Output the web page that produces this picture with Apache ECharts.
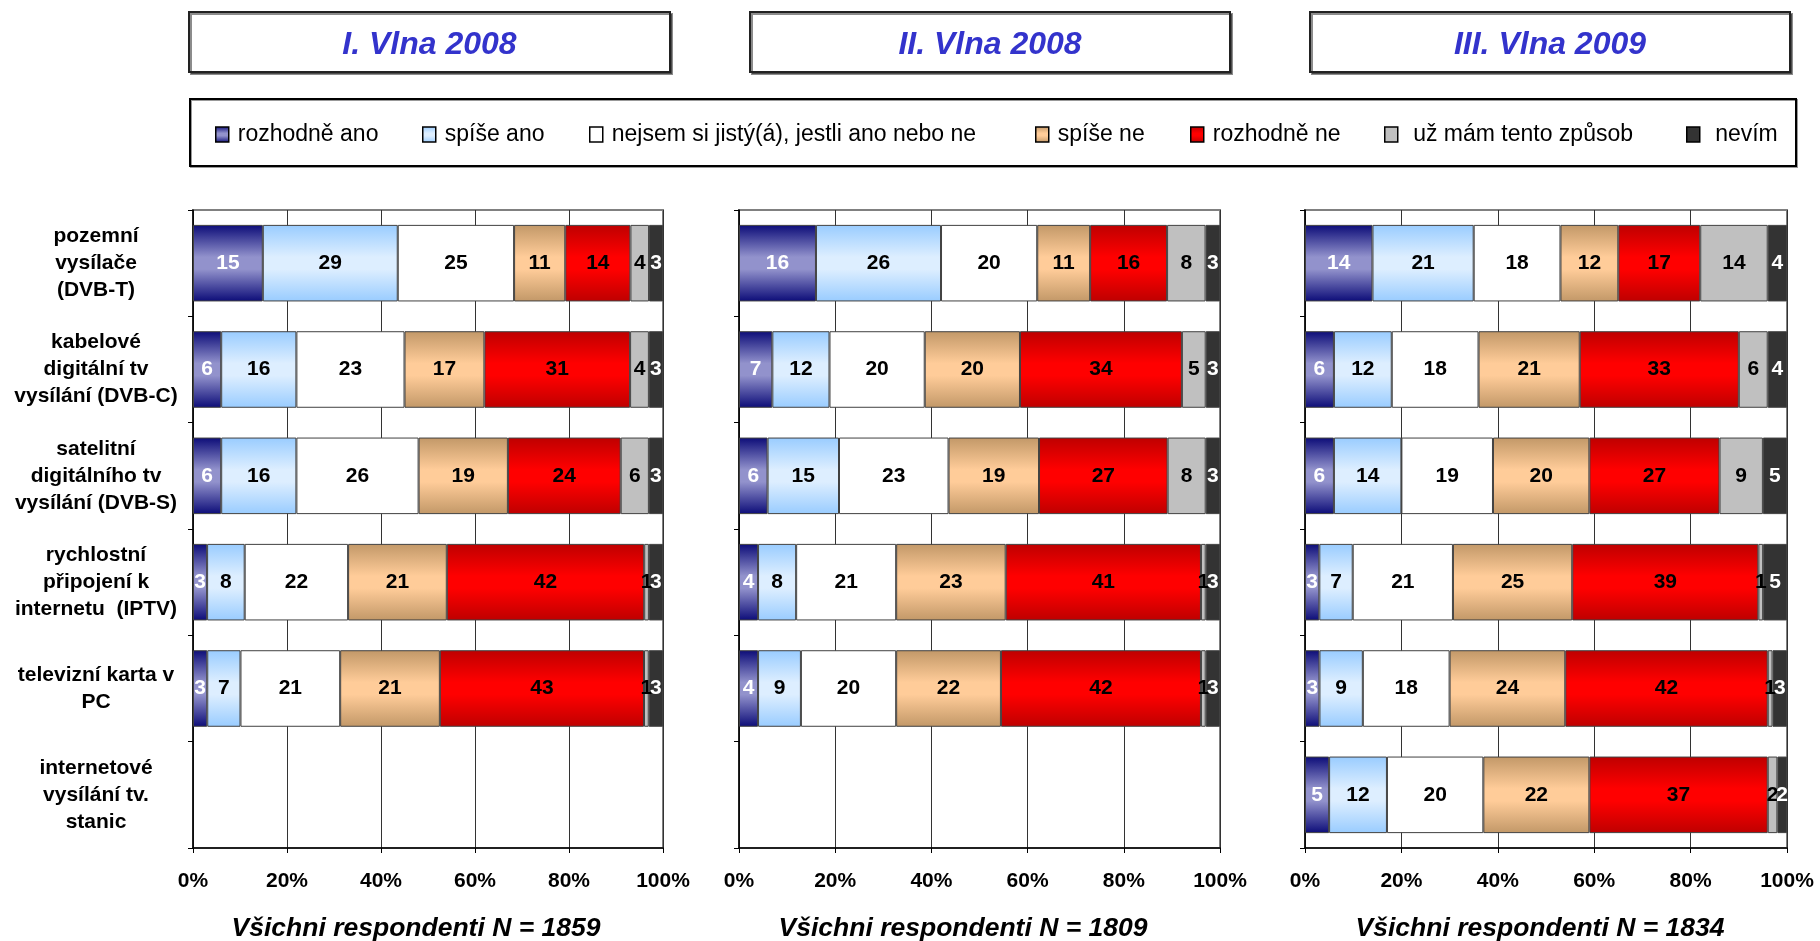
<!DOCTYPE html>
<html>
<head>
<meta charset="utf-8">
<script src="https://cdn.jsdelivr.net/npm/echarts@6/dist/echarts.min.js"></script>
<style>
html,body{margin:0;padding:0;background:#fff;}
#chart{width:1820px;height:941px;}
</style>
</head>
<body>
<div id="chart"></div>
<script>
// ---- data ----
const categories = [
  'pozemní\nvysílače\n(DVB-T)',
  'kabelové\ndigitální tv\nvysílání (DVB-C)',
  'satelitní\ndigitálního tv\nvysílání (DVB-S)',
  'rychlostní\npřipojení k\ninternetu  (IPTV)',
  'televizní karta v\nPC',
  'internetové\nvysílání tv.\nstanic'
];
const answers = ['rozhodně ano', 'spíše ano', 'nejsem si jistý(á), jestli ano nebo ne', 'spíše ne', 'rozhodně ne', 'už mám tento způsob', 'nevím'];
// rows follow categories; values follow answers
const wave1 = [[15,29,25,11,14,4,3],[6,16,23,17,31,4,3],[6,16,26,19,24,6,3],[3,8,22,21,42,1,3],[3,7,21,21,43,1,3],null];
const wave2 = [[16,26,20,11,16,8,3],[7,12,20,20,34,5,3],[6,15,23,19,27,8,3],[4,8,21,23,41,1,3],[4,9,20,22,42,1,3],null];
const wave3 = [[14,21,18,12,17,14,4],[6,12,18,21,33,6,4],[6,14,19,20,27,9,5],[3,7,21,25,39,1,5],[3,9,18,24,42,1,3],[5,12,20,22,37,2,2]];
const waveTitles = ['I. Vlna 2008', 'II. Vlna 2008', 'III. Vlna 2009'];
const sampleNotes = ['Všichni respondenti N = 1859', 'Všichni respondenti N = 1809', 'Všichni respondenti N = 1834'];

// ---- styling ----
const FONT = '"Liberation Sans", Arial, sans-serif';
function grad(a, b) {
  return new echarts.graphic.LinearGradient(0, 0, 0, 1, [
    {offset: 0, color: a}, {offset: 0.42, color: b}, {offset: 0.58, color: b}, {offset: 1, color: a}
  ]);
}
const fills = [
  grad('#0C0C78', '#9292CC'),
  grad('#99CCFF', '#DDEEFF'),
  '#FFFFFF',
  grad('#C29868', '#FFCC99'),
  grad('#BE0000', '#FF0000'),
  '#C0C0C0',
  '#333333'
];
const labelColors = ['#FFFFFF', '#000', '#000', '#000', '#000', '#000', '#FFFFFF'];

const waves = [wave1, wave2, wave3];
const grids = [
  {left: 193, top: 210, width: 470, height: 638},
  {left: 739, top: 210, width: 481, height: 638},
  {left: 1305, top: 210, width: 482, height: 638}
];
const titleBoxes = [[189, 670], [750, 1230], [1310, 1790]];
const noteCenters = [416, 963, 1540];
const legendLeft = [215, 422, 589, 1035, 1190, 1384, 1686];

const xAxes = [], yAxes = [], series = [];
grids.forEach((g, p) => {
  g.show = true; g.borderColor = '#808080'; g.borderWidth = 2;
  xAxes.push({
    type: 'value', gridIndex: p, min: 0, max: 100, interval: 20,
    axisLine: {show: true, lineStyle: {color: '#000', width: 1.5}},
    axisTick: {show: true, length: 5, lineStyle: {color: '#000'}},
    splitLine: {show: true, lineStyle: {color: '#333', width: 1}},
    axisLabel: {formatter: '{value}%', fontSize: 21, fontWeight: 'bold', color: '#000', fontFamily: FONT, margin: 23}
  });
  yAxes.push({
    type: 'category', gridIndex: p, data: categories, inverse: true,
    axisLine: {show: true, lineStyle: {color: '#000', width: 1.5}},
    axisTick: {show: true, length: 5, lineStyle: {color: '#000'}},
    axisLabel: {show: p === 0, fontSize: 21, fontWeight: 'bold', color: '#000', fontFamily: FONT,
      align: 'center', margin: 97, lineHeight: 27}
  });
  const rows = waves[p];
  answers.forEach((ans, a) => {
    series.push({
      name: ans, type: 'bar', xAxisIndex: p, yAxisIndex: p, stack: 'w' + p,
      barCategoryGap: '28%',
      itemStyle: {color: fills[a], borderColor: '#404040', borderWidth: 1},
      label: {show: true, position: 'inside', fontSize: 21, fontWeight: 'bold', fontFamily: FONT,
        color: labelColors[a], formatter: prm => prm.data && prm.data.raw != null ? prm.data.raw : ''},
      emphasis: {disabled: true},
      data: rows.map(r => {
        if (!r) return '-';
        const total = r.reduce((s, v) => s + v, 0);
        return {value: r[a] / total * 100, raw: r[a]};
      })
    });
  });
});

const legends = answers.map((ans, i) => ({
  data: [ans], left: legendLeft[i], top: 122, padding: 0, itemWidth: 13, itemHeight: 15,
  icon: 'rect', selectedMode: false,
  itemStyle: {borderColor: '#000', borderWidth: 1.5},
  formatter: i >= 5 ? ' {name}' : '{name}',
  textStyle: {fontSize: 23, color: '#000', fontFamily: FONT, lineHeight: 25, padding: [0, 0, 0, 4]}
}));

const graphics = [];
titleBoxes.forEach((b, i) => {
  graphics.push({type: 'rect', shape: {x: b[0], y: 12, width: b[1] - b[0], height: 60},
    style: {fill: '#fff', stroke: '#222', lineWidth: 2, shadowColor: 'rgba(0,0,0,0.45)', shadowOffsetX: 2, shadowOffsetY: 2, shadowBlur: 0}, z: 0});
  graphics.push({type: 'text', x: (b[0] + b[1]) / 2, y: 45,
    style: {text: waveTitles[i], fontSize: 32, fontWeight: 'bold', fontStyle: 'italic', fontFamily: FONT,
      fill: '#3333CC', align: 'center', verticalAlign: 'middle'}, z: 1});
  graphics.push({type: 'text', x: noteCenters[i], y: 929,
    style: {text: sampleNotes[i], fontSize: 26.5, fontWeight: 'bold', fontStyle: 'italic', fontFamily: FONT,
      fill: '#000', align: 'center', verticalAlign: 'middle'}, z: 1});
});
graphics.push({type: 'rect', shape: {x: 190, y: 99, width: 1606, height: 67},
  style: {fill: 'none', stroke: '#000', lineWidth: 2, shadowColor: 'rgba(0,0,0,0.4)', shadowOffsetX: 1, shadowOffsetY: 1, shadowBlur: 0}, z: 0});

const chart = echarts.init(document.getElementById('chart'), null, {renderer: 'canvas'});
chart.setOption({
  backgroundColor: '#fff',
  animation: false,
  grid: grids,
  xAxis: xAxes,
  yAxis: yAxes,
  legend: legends,
  graphic: graphics,
  series: series
});
</script>
</body>
</html>
